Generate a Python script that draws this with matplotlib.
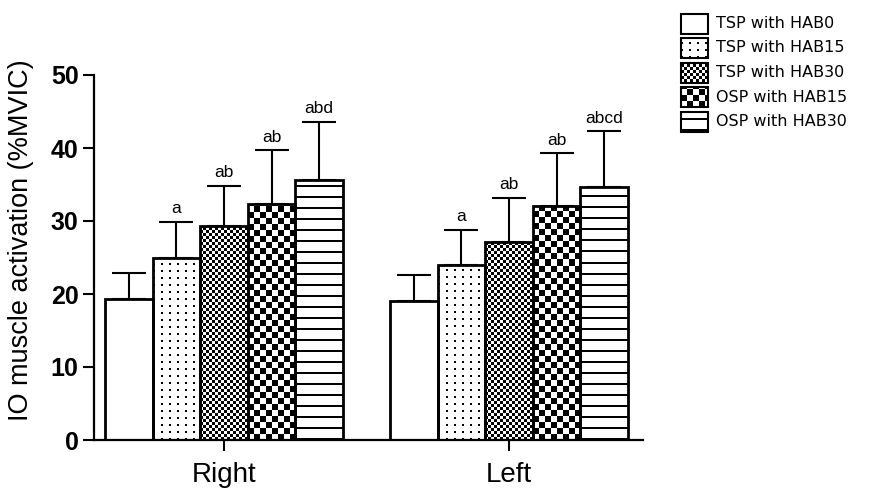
"""IO muscle activation, Right vs Left, five posture conditions (pattern-filled bars)."""
import matplotlib
matplotlib.use("Agg")
import matplotlib.pyplot as plt
import numpy as np
from matplotlib.patches import Rectangle

plt.rcParams["font.family"] = ["Liberation Sans", "DejaVu Sans"]

# ---------------------------------------------------------------------------
# data
# ---------------------------------------------------------------------------
GROUPS = ["Right", "Left"]
SERIES = ["TSP with HAB0", "TSP with HAB15", "TSP with HAB30",
          "OSP with HAB15", "OSP with HAB30"]
PATTERNS = ["blank", "dots", "fine", "coarse", "hlines"]

MEAN_RIGHT = [19.3, 24.9, 29.3, 32.3, 35.6]
SD_RIGHT = [3.6, 5.0, 5.5, 7.4, 8.0]
MEAN_LEFT = [19.0, 24.0, 27.1, 32.1, 34.7]
SD_LEFT = [3.6, 4.8, 6.1, 7.2, 7.6]
SIG_RIGHT = ["", "a", "ab", "ab", "abd"]
SIG_LEFT = ["", "a", "ab", "ab", "abcd"]

W, H, DPI = 8.69, 4.96, 100
fig = plt.figure(figsize=(W, H), dpi=DPI)

# axes placed in pixel terms to match the reference
AX_L, AX_R, AX_B, AX_T = 94, 643, 440, 75   # px from left / top
ax = fig.add_axes([AX_L / 869, (496 - AX_B) / 496,
                   (AX_R - AX_L) / 869, (AX_B - AX_T) / 496])
XLIM = (-0.456, 1.47)
YLIM = (0, 50)
ax.set_xlim(*XLIM)
ax.set_ylim(*YLIM)
PX_X = (AX_R - AX_L) / (XLIM[1] - XLIM[0])   # pixels per data unit
PX_Y = (AX_B - AX_T) / (YLIM[1] - YLIM[0])


def pattern(kind, nx, ny):
    X, Y = np.meshgrid(np.arange(nx), np.arange(ny))
    if kind == "dots":
        return ((X % 8 < 2) & (Y % 7 < 2)).astype(float)
    if kind == "fine":
        return ((X // 3 + Y // 3) % 2).astype(float)
    if kind == "coarse":
        return ((X // 6 + Y // 6) % 2).astype(float)
    if kind == "hlines":
        return (Y % 11 < 2).astype(float)
    return np.zeros((ny, nx))


def fill_pattern(a, patch, kind, sx, sy):
    if kind == "blank":
        return
    x0, y0 = patch.get_x(), patch.get_y()
    w, h = patch.get_width(), patch.get_height()
    nx, ny = int(np.ceil(w * sx)) + 1, int(np.ceil(h * sy)) + 1
    img = pattern(kind, nx, ny)
    im = a.imshow(img, cmap="gray_r", vmin=0, vmax=1, origin="lower",
                  interpolation="nearest", aspect="auto",
                  extent=(x0, x0 + nx / sx, y0, y0 + ny / sy), zorder=1.5)
    im.set_clip_path(patch)


BW = 0.167
x = np.arange(len(GROUPS))
for i, name in enumerate(SERIES):
    means = [MEAN_RIGHT[i], MEAN_LEFT[i]]
    sds = [SD_RIGHT[i], SD_LEFT[i]]
    sigs = [SIG_RIGHT[i], SIG_LEFT[i]]
    xs = x + (i - 2) * BW
    bars = ax.bar(xs, means, width=BW, color="white", edgecolor="none", zorder=1)
    for b in bars:
        fill_pattern(ax, b, PATTERNS[i], PX_X, PX_Y)
    ax.errorbar(xs, means, yerr=[np.zeros(2), sds], fmt="none", ecolor="black",
                elinewidth=1.5, capsize=12, capthick=1.5, zorder=2)
    ax.bar(xs, means, width=BW, fill=False, edgecolor="black", lw=2, zorder=3)
    for xx, m, s, t in zip(xs, means, sds, sigs):
        if t:
            ax.annotate(t, (xx, m + s), xytext=(0, 4), textcoords="offset points",
                        ha="center", va="bottom", fontsize=12.5)

ax.spines[["top", "right"]].set_visible(False)
for sp in ("left", "bottom"):
    ax.spines[sp].set_linewidth(1.6)
ax.set_yticks(range(0, 51, 10))
ax.set_xticks(x)
ax.set_xticklabels(GROUPS, fontsize=20)
ax.tick_params(axis="both", direction="out", length=8, width=1.5)
ax.tick_params(axis="x", pad=8)
ax.tick_params(axis="y", pad=3)
for lab in ax.get_yticklabels():
    lab.set_fontsize(18)
    lab.set_fontweight("bold")
ax.set_ylabel("IO muscle activation (%MVIC)", fontsize=19.5)
ax.yaxis.set_label_coords(-0.11, 0.548)

# legend drawn in pixel space on an overlay axes
lg = fig.add_axes([0, 0, 1, 1], facecolor="none")
lg.set_xlim(0, 869)
lg.set_ylim(0, 496)
lg.axis("off")
ROW_Y = [23.5, 48, 72.5, 97, 121.5]
BOX_W, BOX_H = 27, 20
for name, kind, yc in zip(SERIES, PATTERNS, ROW_Y):
    yb = 496 - yc - BOX_H / 2
    box = Rectangle((681, yb), BOX_W, BOX_H, facecolor="white", edgecolor="none", zorder=1)
    lg.add_patch(box)
    fill_pattern(lg, box, kind, 1.0, 1.0)
    lg.add_patch(Rectangle((681, yb), BOX_W, BOX_H, fill=False, edgecolor="black",
                           lw=1.5, zorder=3))
    lg.text(716, 496 - yc, name, fontsize=11.5, va="center", ha="left",
            family=["DejaVu Sans"])

fig.savefig("out.png", dpi=DPI)
